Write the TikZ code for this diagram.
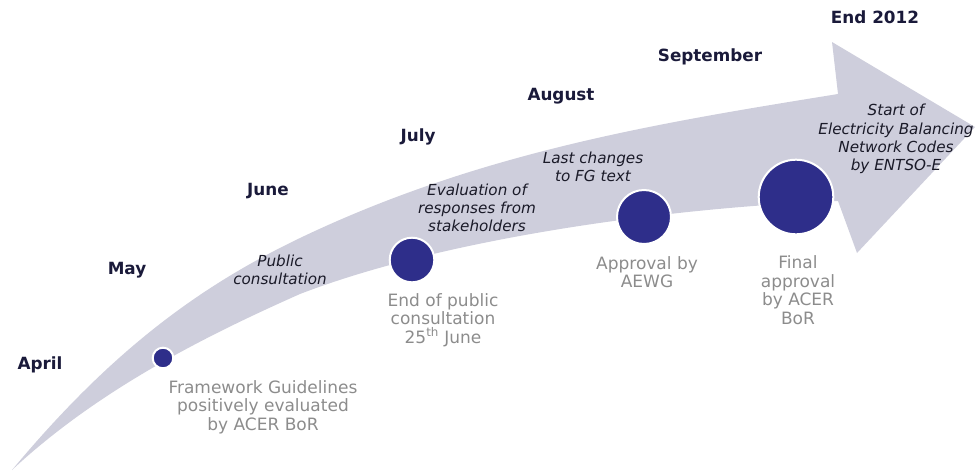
\documentclass[tikz,border=0pt]{standalone}
\usepackage{fontspec}
\setmainfont{DejaVu Sans}
\usetikzlibrary{calc}
\definecolor{arrowgrey}{RGB}{206,206,220}
\definecolor{dotblue}{RGB}{46,46,138}
\definecolor{monthnavy}{RGB}{26,26,58}
\definecolor{notegrey}{RGB}{140,140,140}
\definecolor{stepblack}{RGB}{26,26,40}
\tikzset{
    my-month/.style={
        text=monthnavy, font=\fontsize{16.8}{19}\selectfont\bfseries
    },
    my-step/.style={
        text=stepblack, align=center, font=\fontsize{15.2}{18.3}\selectfont\itshape
    },
    my-note/.style={
        text=notegrey, align=center, font=\fontsize{17}{18.5}\selectfont
    },
    my-dot/.style={
        circle, fill=dotblue, draw=white, line width=2pt, inner sep=0pt
    },
}
\begin{document}
\begin{tikzpicture}[x=1pt, y=-1pt]
        \useasboundingbox (0,0) rectangle (979,472);

        % ARROW ---------------------------------------------------------------------------------------
        \coordinate (TAIL)   at (12,470);
        \coordinate (UPMID)  at (300,238);
        \coordinate (UPJOIN) at (838,94);
        \coordinate (UPBARB) at (832,42);
        \coordinate (HEAD)   at (975,127);
        \coordinate (LOBARB) at (857,253);
        \coordinate (LOJOIN) at (838,201);
        \coordinate (LOMID)  at (300,294);
        \fill[arrowgrey] (TAIL) .. controls (112,350) and (200,286) .. (UPMID)
            .. controls (480,152) and (658,123) .. (UPJOIN)
            -- (UPBARB) -- (HEAD) -- (LOBARB) -- (LOJOIN)
            .. controls (660,208) and (440,240) .. (LOMID)
            .. controls (210,334) and (100,388) .. (TAIL) -- cycle;

        % MONTHS
        \node[my-month] (APRIL) at (40,365)  {April};
        \node[my-month] (MAY)   at (127,270) {May};
        \node[my-month] (JUNE)  at (268,191) {June};
        \node[my-month] (JULY)  at (418,137) {July};
        \node[my-month] (AUG)   at (561,96)  {August};
        \node[my-month] (SEPT)  at (710,57)  {September};
        \node[my-month] (END)   at (875,17)  {End 2012};

        % DOTS ON THE ARROW
        \node[my-dot, minimum size=20.6pt] (DOT1) at (163,358) {};
        \node[my-dot, minimum size=44.6pt] (DOT2) at (412,260) {};
        \node[my-dot, minimum size=54pt]   (DOT3) at (644,217) {};
        \node[my-dot, minimum size=74.6pt] (DOT4) at (796,197) {};

        % NOTES UNDER THE DOTS
        \node[my-note] (NOTE1) at ($(DOT1) + (100,49)$) {Framework Guidelines\\positively evaluated\\by ACER BoR};
        \node[my-note] (NOTE2) at ($(DOT2) + (31,60)$)  {End of public\\consultation\\25\textsuperscript{th} June};
        \node[my-note] (NOTE3) at ($(DOT3) + (3,55)$)   {Approval by\\AEWG};
        \node[my-note] (NOTE4) at ($(DOT4) + (2,93)$)   {Final\\approval\\by ACER\\BoR};

        % STEPS INSIDE THE ARROW
        \node[my-step] (PUBLIC) at (280,270) {Public\\consultation};
        \node[my-step] (EVAL)   at (477,208) {Evaluation of\\responses from\\stakeholders};
        \node[my-step] (LAST)   at (593,167) {Last changes\\to FG text};
        \node[my-step] (START)  at (896,139) {Start of\\Electricity Balancing\\Network Codes\\by ENTSO-E};

\end{tikzpicture}
\end{document}
